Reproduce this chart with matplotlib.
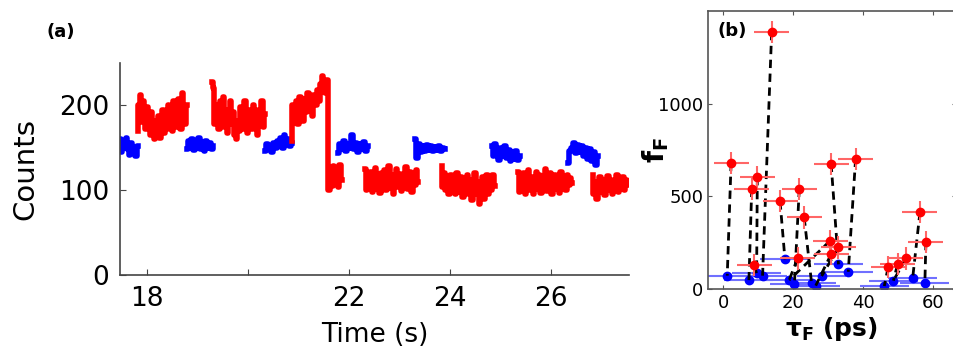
import numpy as np
import matplotlib
matplotlib.use("Agg")
import matplotlib.pyplot as plt

plt.rcParams['font.family'] = ['DejaVu Sans']

# ---------------- panel (a): intensity trace ----------------
# (start time, end time) of every segment, plus the counts inside it
blue_spans = [(17.47, 17.82), (18.79, 19.32), (20.34, 20.87), (21.78, 22.38),
              (23.31, 23.90), (24.83, 25.39), (26.34, 26.93)]
blue_counts = [
    [160, 145, 155, 150, 162, 148, 142, 156, 145, 150, 140, 152],
    [148, 158, 150, 160, 147, 158, 150, 161, 148, 157, 146, 158, 150, 156, 148, 152],
    [146, 155, 148, 152, 145, 156, 150, 158, 152, 162, 150, 165, 155, 160, 152, 156],
    [144, 155, 148, 158, 146, 155, 150, 165, 148, 156, 145, 155, 148, 157, 146, 152],
    [160, 138, 155, 145, 152, 146, 153, 147, 152, 146, 151, 147, 152, 146, 150, 148],
    [152, 140, 155, 145, 136, 150, 140, 152, 138, 147, 135, 145, 137, 146, 136, 140],
    [132, 146, 150, 156, 144, 153, 145, 152, 140, 150, 137, 148, 134, 145, 130, 140],
]
red_spans = [(17.82, 18.79), (19.29, 20.34), (20.87, 21.86), (22.32, 23.37),
             (23.84, 24.89), (25.35, 26.42), (26.83, 27.52)]
red_counts = [
    [170, 200, 212, 180, 205, 190, 172, 198, 185, 165, 192, 175, 160, 182, 170, 188, 162, 178,
     195, 168, 185, 172, 200, 176, 190, 170, 205, 182, 175, 208, 185, 172, 215, 190, 178, 200],
    [228, 220, 178, 200, 185, 172, 205, 190, 210, 175, 195, 168, 188, 205, 178, 192, 165, 160, 182,
     170, 198, 185, 172, 205, 180, 168, 195, 185, 172, 200, 178, 188, 165, 195, 182, 205, 175, 190],
    [158, 200, 185, 205, 178, 210, 195, 182, 208, 192, 215, 198, 205, 188, 212, 200, 218, 205,
     225, 235, 228, 215, 230, 100, 118, 105, 128, 110, 122, 104, 130, 112],
    [125, 100, 118, 105, 122, 98, 112, 126, 102, 115, 97, 120, 108, 124, 100, 114, 128, 103,
     118, 96, 110, 125, 104, 119, 99, 116, 107, 127, 101, 113, 122, 98, 118, 106, 124, 110],
    [128, 104, 120, 100, 114, 95, 118, 102, 112, 96, 120, 105, 98, 116, 92, 110, 104, 118,
     96, 112, 88, 106, 120, 95, 110, 84, 102, 115, 90, 108, 118, 96, 112, 100, 118, 105],
    [122, 98, 115, 104, 120, 96, 112, 124, 100, 116, 95, 110, 122, 102, 118, 97, 114, 106,
     125, 99, 112, 120, 96, 110, 118, 101, 115, 97, 122, 104, 112, 100, 118, 106, 114, 108],
    [118, 96, 110, 90, 106, 115, 98, 112, 94, 108, 117, 100, 112, 95, 110, 104, 118, 98,
     112, 102, 115, 100, 112, 106],
]
time_ticks = [18, 20, 22, 24, 26]
time_labels = ['18', '', '22', '24', '26']
count_ticks = [0, 100, 200]

# ---------------- panel (b): f_F versus tau_F ----------------
red_tau = [2.3, 13.9, 8.2, 9.8, 8.9, 16.3, 21.8, 23.2, 21.3, 30.6, 33.0, 30.9, 30.9,
           37.9, 47.2, 49.9, 52.3, 56.3, 58.0]
red_f = [681, 1387, 541, 604, 129, 473, 541, 386, 165, 260, 224, 188, 676,
         703, 117, 133, 165, 416, 254]
blue_tau = [1.2, 7.4, 9.6, 11.3, 17.7, 18.9, 20.4, 25.3, 26.5, 28.2, 33.0, 35.8,
            46.1, 48.7, 54.2, 57.7]
blue_f = [72, 48, 84, 72, 160, 48, 25, 34, 18, 70, 133, 93, 16, 45, 57, 34]
# which red point is joined to which blue point
pairs = [(0, 0), (1, 3), (2, 1), (3, 2), (4, 2), (5, 4), (6, 6), (7, 7), (8, 5),
         (9, 5), (11, 8), (10, 9), (12, 10), (13, 11), (14, 12), (15, 13), (16, 13),
         (17, 14), (18, 15)]
red_xerr, red_yerr = 5, 60
blue_xerr, blue_yerr = 7, 8

fig = plt.figure(figsize=(9.54, 3.54), dpi=100)

# ---- (a)
ax = fig.add_axes([120/954, 1-275/354, 509/954, 212/354])
for (t0, t1), c in zip(blue_spans, blue_counts):
    ax.step(np.linspace(t0, t1, len(c)), c, where='mid', color='#0000ff', lw=4)
for (t0, t1), c in zip(red_spans, red_counts):
    ax.step(np.linspace(t0, t1, len(c)), c, where='mid', color='#ff0000', lw=4)
ax.set_xlim(17.47, 27.55)
ax.set_ylim(0, 250)
ax.set_xticks(time_ticks)
ax.set_xticklabels(time_labels)
ax.set_yticks(count_ticks)
for s in ['top', 'right']:
    ax.spines[s].set_visible(False)
for s in ['left', 'bottom']:
    ax.spines[s].set_color('#444444')
    ax.spines[s].set_linewidth(1.2)
ax.tick_params(direction='in', length=4, labelsize=19, color='#444444', pad=8)
ax.set_ylabel('Counts', fontsize=21, labelpad=14)
ax.set_xlabel('Time (s)', fontsize=19, labelpad=7)
fig.text(47/954, 1-32/354, '(a)', fontsize=13, fontweight='bold', va='center')

# ---- (b)
bx = fig.add_axes([708/954, 1-289/354, 248/954, 278/354])
for r, b in pairs:
    bx.plot([red_tau[r], blue_tau[b]], [red_f[r], blue_f[b]], color='black', lw=2,
            ls=(0, (3, 2)), zorder=3)
bx.errorbar(blue_tau, blue_f, xerr=blue_xerr, yerr=blue_yerr, fmt='o', color='#0000ff',
            ecolor='#7070ff', elinewidth=1.5, ms=6, capsize=0, zorder=2)
bx.errorbar(red_tau, red_f, xerr=red_xerr, yerr=red_yerr, fmt='o', color='#ff0000',
            ecolor='#ff6666', elinewidth=1.5, ms=6, capsize=0, zorder=4)
bx.set_xlim(-4.3, 66.6)
bx.set_ylim(0, 1500)
bx.set_xticks([0, 20, 40, 60])
bx.set_yticks([0, 500, 1000])
for s in bx.spines.values():
    s.set_color('#555555')
    s.set_linewidth(1.2)
bx.tick_params(direction='in', length=3, labelsize=13, top=True, right=True,
               color='#555555')
bx.set_ylabel(r'$\mathbf{f_F}$', fontsize=20)
bx.yaxis.set_label_coords(-0.15, 0.5)
bx.set_xlabel(r'$\mathbf{\tau_F}$ (ps)', fontsize=18, fontweight='bold', labelpad=2)
bx.text(0.04, 0.96, '(b)', transform=bx.transAxes, fontsize=13, fontweight='bold',
        va='top')

fig.savefig('out.png', dpi=100)
